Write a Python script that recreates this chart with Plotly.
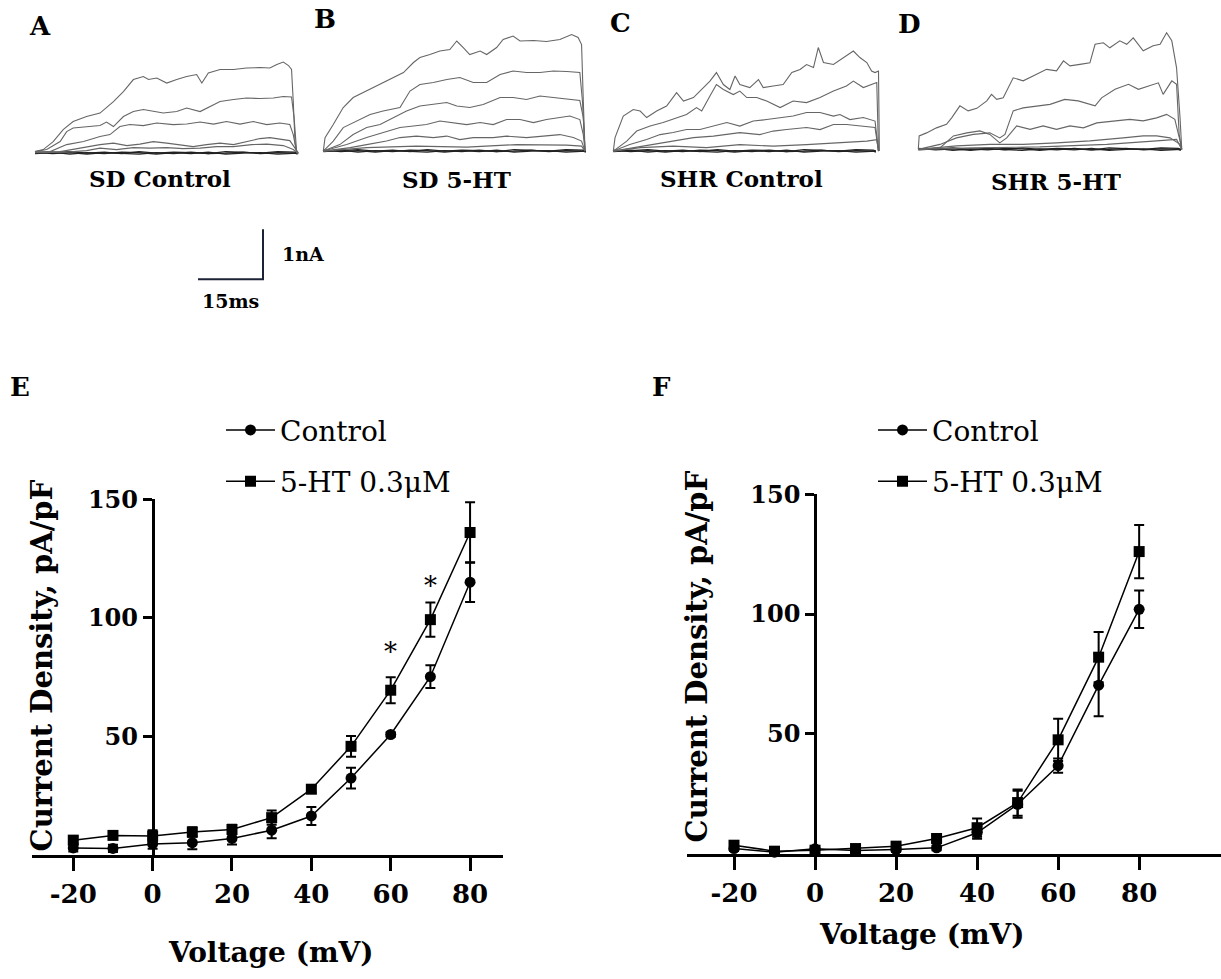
import plotly.graph_objects as go

W, H = 1221, 979
def fx(p): return p / W
def fy(p):
    # map a target pixel row to paper coords (small empirical render correction)
    return 1 - ((p - 14) / 0.984) / H

FONT = "DejaVu Serif"

# ---------------- I-V data (panels E, F) ----------------
voltage = [-20, -10, 0, 10, 20, 30, 40, 50, 60, 70, 80]
x_tickvals = [-20, 0, 20, 40, 60, 80]
x_ticktext = ["-20", "0", "20", "40", "60", "80"]
y_tickvals = [50, 100, 150]
y_ticktext = ["50", "100", "150"]

e_control = [2.8, 2.6, 4.5, 5.0, 6.8, 10.3, 16.3, 32.3, 50.7, 75.1, 115.0]
e_control_err = [1.5, 1.5, 2.0, 2.7, 2.5, 3.4, 3.8, 4.4, 1.0, 4.8, 8.4]
e_5ht = [6.1, 8.1, 7.8, 9.5, 10.6, 15.6, 27.6, 45.7, 69.4, 99.2, 136.0]
e_5ht_err = [1.5, 1.5, 2.5, 2.0, 2.0, 3.0, 1.5, 4.4, 5.5, 7.2, 12.8]

f_control = [2.1, 0.6, 2.0, 1.3, 1.7, 2.4, 8.7, 20.6, 36.7, 70.3, 102.0]
f_control_err = [1.0, 0.8, 1.0, 0.8, 1.0, 1.0, 2.5, 5.6, 3.0, 13.0, 7.8]
f_5ht = [3.5, 1.0, 1.4, 2.1, 3.1, 6.3, 10.8, 21.3, 47.5, 82.0, 126.1]
f_5ht_err = [1.0, 0.8, 1.0, 0.8, 1.0, 1.5, 3.8, 5.5, 8.8, 10.5, 11.1]

e_star_v = [60, 70]
e_star_y = [88, 116]

# ---------------- current traces (ms, nA) ----------------
base_t = [0, 4, 8, 12, 16, 20, 24, 28, 32, 36, 40, 44, 48, 52, 56, 60, 60.6]
base_i1 = [0.02, -0.01, 0.01, -0.02, 0.01, 0.0, -0.02, 0.01, -0.01, 0.02, -0.01, 0.0, 0.02, -0.01, 0.01, 0.0, -0.02]
base_i2 = [0.0, 0.02, -0.02, 0.01, -0.01, 0.02, 0.01, -0.02, 0.01, -0.01, 0.02, -0.02, 0.0, 0.01, -0.02, 0.01, 0.0]
base_i3 = [-0.01, 0.01, 0.03, 0.0, 0.02, -0.01, 0.03, 0.0, 0.02, 0.01, -0.01, 0.03, 0.01, 0.0, 0.03, 0.02, 0.0]

panel_a = [
    ([0, 1.9, 4.2, 6.5, 8.8, 11.9, 15.0, 18.1, 20.4, 22.7, 25.0, 26.2, 28.1, 30.4, 32.7, 35.0, 37.3, 38.5, 40.0, 42.7, 45.8, 48.8, 51.9, 54.2, 55.8, 57.3, 58.5, 59.2, 59.6, 60.0, 60.4],
     [0.03, 0.07, 0.23, 0.47, 0.63, 0.73, 0.80, 1.03, 1.23, 1.47, 1.53, 1.47, 1.50, 1.40, 1.47, 1.53, 1.57, 1.40, 1.60, 1.67, 1.67, 1.70, 1.71, 1.70, 1.77, 1.82, 1.75, 1.67, 1.03, 0.23, 0.0]),
    ([0, 2.7, 5.8, 7.3, 8.8, 11.9, 15.0, 16.5, 18.1, 20.4, 22.7, 25.0, 27.3, 29.6, 32.7, 35.0, 38.1, 40.4, 42.7, 45.8, 48.8, 51.9, 55.0, 57.3, 59.2, 59.8, 60.4],
     [0.03, 0.07, 0.23, 0.43, 0.50, 0.53, 0.55, 0.62, 0.53, 0.73, 0.83, 0.87, 0.83, 0.80, 0.83, 0.90, 0.83, 0.93, 1.03, 1.07, 1.10, 1.09, 1.10, 1.13, 1.12, 0.70, 0.0]),
    ([0, 3.5, 7.3, 11.2, 15.0, 17.3, 19.6, 21.9, 25.0, 28.1, 31.9, 35.0, 38.1, 41.2, 44.2, 47.3, 50.4, 53.5, 56.5, 58.8, 59.6, 60.4],
     [0.02, 0.03, 0.17, 0.23, 0.33, 0.37, 0.53, 0.57, 0.55, 0.60, 0.57, 0.58, 0.62, 0.58, 0.63, 0.58, 0.63, 0.57, 0.60, 0.57, 0.37, 0.0]),
    ([0, 5.8, 10.4, 15.0, 18.1, 21.2, 24.2, 27.3, 30.4, 33.5, 36.5, 39.6, 42.7, 45.8, 48.8, 51.9, 54.2, 56.5, 58.8, 60.0, 60.8],
     [0.02, 0.03, 0.10, 0.17, 0.20, 0.15, 0.18, 0.23, 0.20, 0.17, 0.13, 0.17, 0.20, 0.17, 0.23, 0.29, 0.31, 0.28, 0.25, 0.10, 0.0]),
    ([0, 7.3, 11.9, 15.0, 18.8, 22.7, 26.5, 30.4, 34.2, 38.1, 41.9, 45.8, 50.0, 53.5, 57.3, 59.6, 60.8],
     [0.01, 0.02, 0.05, 0.10, 0.07, 0.11, 0.10, 0.11, 0.09, 0.10, 0.13, 0.13, 0.17, 0.18, 0.15, 0.07, -0.01]),
]

panel_b = [
    ([0, 0.4, 2.3, 4.6, 6.9, 10.0, 13.1, 16.2, 18.5, 20.8, 22.3, 24.6, 26.9, 29.2, 30.8, 32.3, 33.8, 36.2, 37.7, 40.0, 41.5, 43.8, 45.4, 48.5, 51.5, 54.6, 57.3, 58.8, 59.6, 60.0, 60.4],
     [0.0, 0.27, 0.53, 0.87, 1.07, 1.20, 1.33, 1.47, 1.57, 1.77, 1.87, 1.93, 2.00, 2.03, 2.20, 2.07, 1.93, 2.00, 1.93, 2.07, 2.23, 2.30, 2.20, 2.21, 2.19, 2.23, 2.33, 2.27, 2.13, 1.0, 0.0]),
    ([0, 2.3, 4.6, 7.7, 10.8, 13.8, 17.7, 20.0, 22.3, 25.4, 28.5, 31.5, 34.6, 37.7, 40.8, 43.8, 46.9, 50.0, 53.1, 56.2, 59.2, 59.8, 60.4],
     [0.0, 0.20, 0.47, 0.60, 0.73, 0.80, 0.87, 1.20, 1.33, 1.37, 1.43, 1.47, 1.37, 1.37, 1.53, 1.60, 1.57, 1.57, 1.60, 1.59, 1.57, 1.0, 0.0]),
    ([0, 3.8, 6.9, 10.0, 13.1, 16.2, 19.2, 22.3, 25.4, 28.5, 30.8, 33.8, 36.9, 40.8, 43.8, 46.9, 50.0, 53.1, 56.2, 59.2, 60.0, 60.4],
     [0.0, 0.13, 0.33, 0.47, 0.53, 0.67, 0.80, 0.90, 0.93, 0.97, 0.90, 0.87, 0.93, 1.07, 1.07, 1.03, 1.10, 1.07, 1.05, 1.01, 0.67, 0.0]),
    ([0, 5.4, 10.0, 13.8, 17.7, 20.8, 23.8, 26.9, 30.0, 33.1, 36.2, 39.2, 42.3, 45.4, 48.5, 51.5, 54.6, 56.9, 59.2, 60.0, 60.4],
     [0.0, 0.13, 0.27, 0.37, 0.47, 0.50, 0.53, 0.60, 0.57, 0.53, 0.57, 0.53, 0.63, 0.63, 0.57, 0.63, 0.67, 0.70, 0.63, 0.33, 0.0]),
    ([0, 6.2, 10.0, 14.6, 17.7, 21.5, 25.4, 28.5, 31.5, 34.6, 39.2, 42.3, 46.9, 51.5, 54.6, 57.7, 59.6, 60.4],
     [0.0, 0.07, 0.13, 0.20, 0.27, 0.30, 0.27, 0.30, 0.23, 0.27, 0.27, 0.30, 0.27, 0.30, 0.33, 0.27, 0.20, 0.0]),
    ([0, 10.0, 21.5, 33.1, 44.6, 56.2, 59.6, 60.4],
     [0.0, 0.07, 0.10, 0.08, 0.13, 0.12, 0.10, 0.0]),
]

panel_c = [
    ([0, 0.4, 2.3, 4.6, 6.2, 7.7, 10.0, 12.3, 14.6, 16.2, 18.5, 20.8, 22.3, 23.8, 25.4, 26.9, 28.1, 29.2, 31.5, 33.5, 34.6, 36.9, 39.2, 41.2, 43.1, 44.6, 46.2, 47.3, 48.5, 50.8, 53.1, 55.4, 56.9, 58.5, 59.6, 60.4, 61.2, 61.4],
     [0.0, 0.27, 0.70, 0.83, 0.80, 0.67, 0.80, 0.90, 1.17, 1.00, 1.07, 1.27, 1.40, 1.57, 1.33, 1.23, 1.50, 1.33, 1.27, 1.43, 1.27, 1.30, 1.33, 1.57, 1.63, 1.73, 1.67, 2.07, 1.77, 1.73, 1.87, 2.00, 1.87, 1.77, 1.60, 1.57, 1.60, 0.0]),
    ([0, 3.1, 5.4, 8.5, 11.5, 14.6, 16.9, 19.2, 20.4, 22.3, 23.8, 25.4, 27.7, 29.2, 30.8, 33.1, 35.4, 38.5, 41.5, 44.6, 47.7, 50.8, 53.8, 55.4, 57.7, 60.8, 61.2],
     [0.0, 0.20, 0.40, 0.50, 0.57, 0.67, 0.73, 0.87, 0.80, 1.10, 1.33, 1.23, 1.13, 1.20, 1.07, 1.07, 1.00, 0.87, 1.00, 0.97, 1.07, 1.20, 1.30, 1.40, 1.27, 1.37, 0.0]),
    ([0, 3.8, 7.7, 10.8, 13.8, 16.9, 20.0, 23.1, 26.2, 29.2, 32.3, 35.4, 38.5, 41.5, 44.6, 47.7, 50.8, 52.3, 54.6, 57.7, 60.4, 61.2],
     [0.0, 0.13, 0.23, 0.33, 0.37, 0.43, 0.43, 0.50, 0.57, 0.50, 0.60, 0.63, 0.67, 0.70, 0.77, 0.77, 0.70, 0.73, 0.63, 0.67, 0.60, 0.0]),
    ([0, 4.6, 9.2, 13.8, 18.5, 23.1, 26.2, 29.2, 33.8, 36.9, 40.0, 44.6, 47.7, 50.8, 53.8, 57.7, 60.4, 61.2],
     [0.0, 0.07, 0.13, 0.20, 0.27, 0.30, 0.33, 0.37, 0.33, 0.40, 0.43, 0.47, 0.43, 0.53, 0.53, 0.50, 0.47, 0.0]),
    ([0, 6.2, 13.8, 21.5, 29.2, 36.9, 44.6, 52.3, 58.5, 60.8, 61.2],
     [0.0, 0.07, 0.10, 0.07, 0.13, 0.10, 0.13, 0.17, 0.20, 0.23, 0.0]),
]

panel_d = [
    ([0, 0.2, 1.9, 4.2, 6.5, 7.7, 9.6, 11.5, 13.5, 15.8, 16.9, 18.1, 19.6, 21.9, 24.2, 25.8, 27.3, 29.6, 31.9, 33.5, 35.0, 37.3, 39.6, 40.8, 42.7, 44.2, 46.5, 48.1, 49.6, 51.9, 54.2, 55.8, 57.3, 58.5, 59.6, 60.4, 60.8],
     [0.0, 0.27, 0.33, 0.43, 0.50, 0.63, 0.87, 0.77, 0.82, 0.97, 1.10, 1.00, 1.03, 1.43, 1.37, 1.43, 1.50, 1.60, 1.57, 1.77, 1.67, 1.70, 1.73, 2.10, 2.13, 2.03, 2.17, 2.10, 2.23, 1.97, 2.07, 2.10, 2.33, 2.17, 1.63, 0.63, 0.0]),
    ([0, 5.0, 8.8, 12.7, 16.5, 18.8, 20.0, 21.9, 24.2, 27.3, 30.4, 33.8, 36.9, 40.8, 42.3, 45.4, 48.5, 50.8, 53.1, 55.4, 56.5, 58.5, 59.6, 60.2, 60.8],
     [0.0, 0.10, 0.23, 0.30, 0.33, 0.23, 0.30, 0.77, 0.83, 0.87, 0.90, 1.00, 0.97, 0.87, 1.03, 1.20, 1.30, 1.20, 1.27, 1.33, 1.10, 1.37, 1.30, 0.30, 0.0]),
    ([0, 5.0, 8.1, 11.2, 14.2, 16.5, 18.8, 20.4, 22.7, 25.8, 28.8, 31.9, 35.0, 38.1, 41.2, 45.8, 48.8, 51.9, 55.0, 57.3, 59.2, 60.4, 60.8],
     [0.0, 0.03, 0.27, 0.33, 0.37, 0.30, 0.13, 0.23, 0.47, 0.40, 0.47, 0.40, 0.47, 0.43, 0.53, 0.57, 0.60, 0.57, 0.63, 0.70, 0.60, 0.17, 0.0]),
    ([0, 8.8, 16.5, 24.2, 31.9, 39.6, 47.3, 51.9, 55.0, 58.1, 60.4, 60.8],
     [0.0, 0.07, 0.10, 0.10, 0.13, 0.17, 0.23, 0.27, 0.27, 0.23, 0.10, 0.0]),
    ([0, 12.7, 28.1, 43.5, 55.0, 59.6, 60.8],
     [0.0, 0.03, 0.05, 0.10, 0.17, 0.20, 0.0]),
]

panel_titles = ["SD Control", "SD 5-HT", "SHR Control", "SHR 5-HT"]
panel_letters = ["A", "B", "C", "D"]
scale_ms = 15
scale_na = 1

# ---------------- layout geometry (pixels) ----------------
MS_PX = 65 / 15.0
NA_PX = 50.0
T_RANGE = [-1.0, 62.5]
I_RANGE = [-0.15, 2.6]
panel_origin = [(35, 152), (323.3, 150), (613.3, 150), (918.3, 148.3)]
panels = [panel_a, panel_b, panel_c, panel_d]

fig = go.Figure()
layout = dict(
    width=W, height=H, margin=dict(l=0, r=0, t=0, b=0),
    paper_bgcolor="white", plot_bgcolor="white", showlegend=True,
)
annotations = []

TRACE_COLOR = "#666666"
BASE_COLOR = "#222222"
for k, (pdata, (ox, oy)) in enumerate(zip(panels, panel_origin)):
    n = k + 1
    xa = "x" if n == 1 else f"x{n}"
    ya = "y" if n == 1 else f"y{n}"
    left = ox + T_RANGE[0] * MS_PX
    right = ox + T_RANGE[1] * MS_PX
    bottom = oy - I_RANGE[0] * NA_PX
    top = oy - I_RANGE[1] * NA_PX
    layout["xaxis" if n == 1 else f"xaxis{n}"] = dict(
        domain=[fx(left), fx(right)], range=T_RANGE, visible=False, anchor=ya)
    layout["yaxis" if n == 1 else f"yaxis{n}"] = dict(
        domain=[fy(bottom), fy(top)], range=I_RANGE, visible=False, anchor=xa)
    for bi in (base_i1, base_i2, base_i3):
        fig.add_trace(go.Scatter(x=base_t, y=bi, mode="lines", xaxis=xa, yaxis=ya,
                                 line=dict(color=BASE_COLOR, width=1.2), showlegend=False,
                                 hoverinfo="skip"))
    for t, i in pdata:
        fig.add_trace(go.Scatter(x=t, y=i, mode="lines", xaxis=xa, yaxis=ya,
                                 line=dict(color=TRACE_COLOR, width=1.1), showlegend=False,
                                 hoverinfo="skip"))

title_pos = [(160, 177), (456, 178), (741, 177), (1056, 180)]
letter_pos = [(40, 25), (325, 18), (620, 22), (910, 23)]
for txt, (px, py) in zip(panel_titles, title_pos):
    annotations.append(dict(text=txt, x=fx(px), y=fy(py), xref="paper", yref="paper",
                            showarrow=False, xanchor="center", yanchor="middle",
                            font=dict(family=FONT, size=23, color="black", weight="bold")))
for txt, (px, py) in zip(panel_letters, letter_pos):
    annotations.append(dict(text=txt, x=fx(px), y=fy(py), xref="paper", yref="paper",
                            showarrow=False, xanchor="center", yanchor="middle",
                            font=dict(family=FONT, size=26, color="black", weight="bold")))

# scale bar subplot (x5/y5)
sb_x0, sb_y0 = 198, 278
sb_pad_t, sb_pad_i = 1.0, 0.1
layout["xaxis5"] = dict(domain=[fx(sb_x0 - sb_pad_t * MS_PX), fx(sb_x0 + (scale_ms + sb_pad_t) * MS_PX)],
                        range=[-sb_pad_t, scale_ms + sb_pad_t], visible=False, anchor="y5")
layout["yaxis5"] = dict(domain=[fy(sb_y0 + sb_pad_i * NA_PX), fy(sb_y0 - (scale_na + sb_pad_i) * NA_PX)],
                        range=[-sb_pad_i, scale_na + sb_pad_i], visible=False, anchor="x5")
fig.add_trace(go.Scatter(x=[0, scale_ms, scale_ms], y=[0, 0, scale_na], mode="lines",
                         xaxis="x5", yaxis="y5", line=dict(color="#1c2236", width=2),
                         showlegend=False, hoverinfo="skip"))
annotations.append(dict(text=f"{scale_na}nA", x=fx(280), y=fy(253), xref="paper", yref="paper",
                        showarrow=False, xanchor="left", yanchor="middle",
                        font=dict(family=FONT, size=19, color="black", weight="bold")))
annotations.append(dict(text=f"{scale_ms}ms", x=fx(200), y=fy(300), xref="paper", yref="paper",
                        showarrow=False, xanchor="left", yanchor="middle",
                        font=dict(family=FONT, size=19, color="black", weight="bold")))

# ---------------- I-V panels ----------------
def iv_axes(n, px_left, px_right, x_range, px_bottom, px_top, y_range):
    d0, d1 = fx(px_left), fx(px_right)
    pos = d0 + (0 - x_range[0]) / (x_range[1] - x_range[0]) * (d1 - d0)
    layout[f"xaxis{n}"] = dict(
        domain=[d0, d1], range=x_range, anchor=f"y{n}", showline=True, linewidth=2.6,
        linecolor="black", ticks="outside", ticklen=14, tickwidth=2.6, tickcolor="black",
        tickvals=x_tickvals, ticktext=x_ticktext, showgrid=False, zeroline=False,
        tickfont=dict(family=FONT, size=26, color="black", weight="bold"))
    layout[f"yaxis{n}"] = dict(
        domain=[fy(px_bottom), fy(px_top)], range=y_range, anchor="free", position=pos,
        showline=True, linewidth=2.6, linecolor="black", ticks="outside", ticklen=9,
        tickwidth=2.6, tickcolor="black", tickvals=y_tickvals, ticktext=y_ticktext,
        showgrid=False, zeroline=False,
        tickfont=dict(family=FONT, size=24, color="black", weight="bold"))

iv_axes(6, 32, 503, [-30.4, 88.3], 853, 498, [0, 150])
iv_axes(7, 687, 1221, [-31.6, 100.2], 852, 493, [0, 150])

def iv_trace(y, err, symbol, name, n, legend):
    return go.Scatter(
        x=voltage, y=y, mode="lines+markers", name=name, xaxis=f"x{n}", yaxis=f"y{n}",
        line=dict(color="black", width=1.5),
        marker=dict(symbol=symbol, size=11, color="black"),
        error_y=dict(type="data", array=err, visible=True, thickness=2, width=5, color="black"),
        cliponaxis=False, legend=legend, legendgroup=f"{legend}-{name}")

fig.add_trace(iv_trace(e_control, e_control_err, "circle", "Control", 6, "legend"))
fig.add_trace(iv_trace(e_5ht, e_5ht_err, "square", "5-HT 0.3μM", 6, "legend"))
fig.add_trace(iv_trace(f_control, f_control_err, "circle", "Control", 7, "legend2"))
fig.add_trace(iv_trace(f_5ht, f_5ht_err, "square", "5-HT 0.3μM", 7, "legend2"))

leg_common = dict(xanchor="left", yanchor="top", bgcolor="rgba(0,0,0,0)", tracegroupgap=12,
                  itemwidth=49, font=dict(family=FONT, size=28, color="black"))
layout["legend"] = dict(x=fx(221), y=fy(404), **leg_common)
layout["legend2"] = dict(x=fx(873), y=fy(404), **leg_common)

for v, yv in zip(e_star_v, e_star_y):
    annotations.append(dict(text="*", x=v, y=yv, xref="x6", yref="y6", showarrow=False,
                            xanchor="center", yanchor="middle", yshift=-6,
                            font=dict(family=FONT, size=26, color="black")))

for txt, px, py in [("E", 20, 386), ("F", 661, 386)]:
    annotations.append(dict(text=txt, x=fx(px), y=fy(py), xref="paper", yref="paper",
                            showarrow=False, xanchor="center", yanchor="middle",
                            font=dict(family=FONT, size=26, color="black", weight="bold")))
for px, py in [(271, 951), (922, 933)]:
    annotations.append(dict(text="Voltage (mV)", x=fx(px), y=fy(py), xref="paper", yref="paper",
                            showarrow=False, xanchor="center", yanchor="middle",
                            font=dict(family=FONT, size=28, color="black", weight="bold")))
for px, py in [(42, 664), (697, 655)]:
    annotations.append(dict(text="Current Density, pA/pF", x=fx(px), y=fy(py), xref="paper",
                            yref="paper", showarrow=False, textangle=-90,
                            xanchor="center", yanchor="middle",
                            font=dict(family=FONT, size=29, color="black", weight="bold")))

layout["annotations"] = annotations
fig.update_layout(**layout)
fig.write_html("out.html", config={"displayModeBar": False},
               post_script="document.body.style.margin='0';document.body.style.overflow='hidden';")
